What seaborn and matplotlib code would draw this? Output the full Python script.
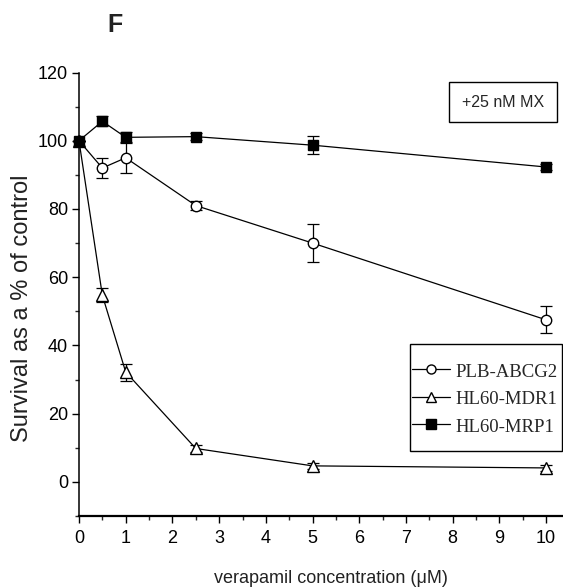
import matplotlib
matplotlib.use("Agg")
import matplotlib.pyplot as plt
import seaborn as sns
import numpy as np
import pandas as pd
from matplotlib.lines import Line2D
from matplotlib.patches import Rectangle
from matplotlib.ticker import MultipleLocator

# ---- data ----
conc = [0, 0.5, 1, 2.5, 5, 10]
abcg2 = [100, 92, 95, 81, 70, 47.5]
abcg2_err = [0, 3, 4.5, 1.3, 5.6, 4]
mdr1 = [100, 54.7, 32.2, 9.8, 4.7, 4.1]
mdr1_err = [0, 2, 2.5, 1, 0.8, 0.8]
mrp1 = [100, 105.7, 101, 101.2, 98.7, 92.3]
mrp1_err = [0, 1.5, 1.6, 1, 2.7, 1]
series_names = ["PLB-ABCG2", "HL60-MDR1", "HL60-MRP1"]
ylim = (-10, 120)
xlim = (0, 10.36)
xticks = list(range(0, 11))
yticks = [0, 20, 40, 60, 80, 100, 120]

sns.set_theme(style="ticks")
plt.rcParams["font.family"] = ["Liberation Sans", "DejaVu Sans"]

W, H = 563, 588
fig = plt.figure(figsize=(W / 100, H / 100), dpi=100)
ax = fig.add_axes([0.1403, 0.1224, 0.8597, 0.7543])

specs = [
    (abcg2, abcg2_err, "o", "white", 7.5),
    (mdr1, mdr1_err, "^", "white", 8),
    (mrp1, mrp1_err, "s", "black", 7.5),
]
handles = []
for name, (vals, err, mk, fc, ms) in zip(series_names, specs):
    df = pd.DataFrame({"conc": conc, "val": vals})
    ax.errorbar(conc, vals, yerr=err, fmt="none", ecolor="black",
                elinewidth=0.9, capsize=4.5, capthick=0.9, zorder=2, clip_on=False)
    sns.lineplot(data=df, x="conc", y="val", ax=ax, color="black", lw=0.9,
                 marker=mk, markersize=ms, markerfacecolor=fc,
                 markeredgecolor="black", markeredgewidth=1.0,
                 zorder=3, clip_on=False, legend=False)
    handles.append(Line2D([], [], color="black", lw=0.9, marker=mk,
                          markersize=6.5, markerfacecolor=fc,
                          markeredgecolor="black", markeredgewidth=1.0))

ax.set_xlim(*xlim)
ax.set_ylim(*ylim)
ax.set_xticks(xticks)
ax.set_yticks(yticks)
ax.xaxis.set_minor_locator(MultipleLocator(0.5))
ax.yaxis.set_minor_locator(MultipleLocator(10))
ax.tick_params(axis="both", which="major", direction="out", length=5,
               width=1.0, labelsize=13, colors="black")
ax.tick_params(axis="x", which="major", pad=5)
ax.tick_params(axis="y", which="major", pad=3)
ax.tick_params(axis="both", which="minor", direction="out", length=3, width=1.0)
for s in ["top", "right"]:
    ax.spines[s].set_visible(False)
ax.spines["left"].set_linewidth(1.1)
ax.spines["bottom"].set_linewidth(1.6)
ax.spines["left"].set_color("black")
ax.spines["bottom"].set_color("black")

ax.set_xlabel("verapamil concentration (μM)", fontsize=13, color="#222222")
ax.set_ylabel("Survival as a % of control", fontsize=17, color="#222222")
ax.xaxis.set_label_coords(0.52, -0.122)
ax.yaxis.set_label_coords(-0.096, 0.468)

# legend contents (frame drawn separately to match the reference box)
leg = fig.legend(handles, series_names, loc="center left",
                 bbox_to_anchor=(412 / W, 1 - 398.5 / H), frameon=False,
                 prop={"family": ["Liberation Serif", "DejaVu Serif"], "size": 13.5},
                 handlelength=2.0, handleheight=1.2, handletextpad=0.3,
                 borderpad=0, labelspacing=0.42, borderaxespad=0)
fig.patches.append(Rectangle((410 / W, 1 - 451 / H), 152 / W, 107 / H,
                             transform=fig.transFigure, fill=False,
                             ec="black", lw=1.0))

fig.text(0.8934, 0.8265, "+25 nM MX", ha="center", va="center", fontsize=11.5,
         bbox=dict(boxstyle="square,pad=0.8", fc="white", ec="black", lw=1.0))
fig.text(0.204, 0.957, "F", ha="center", va="center", fontsize=18,
         fontweight="bold", color="#222222")

fig.savefig("out.png", dpi=100)
